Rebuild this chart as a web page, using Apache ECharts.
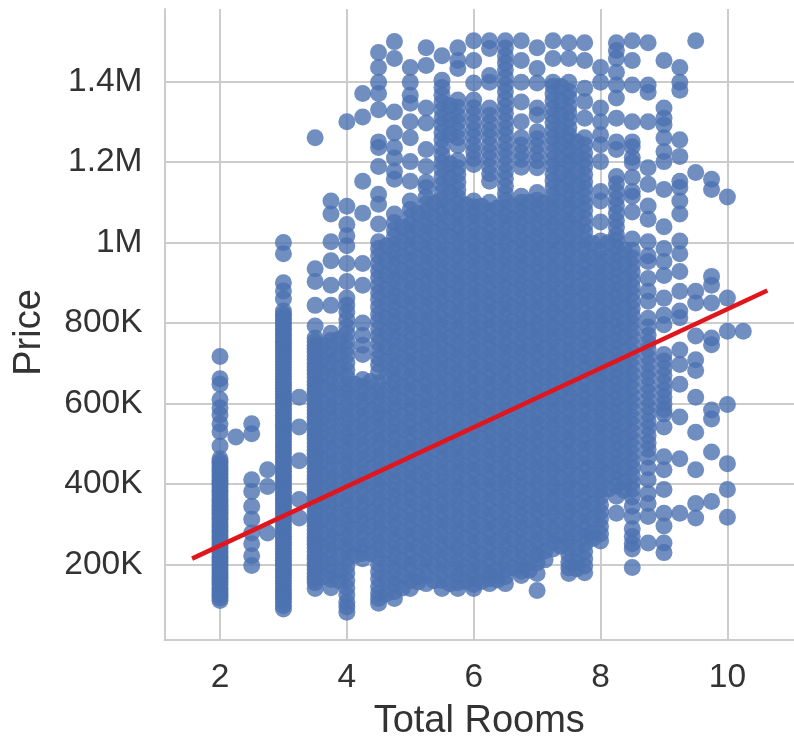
<!DOCTYPE html>
<html><head><meta charset="utf-8">
<style>html,body{margin:0;padding:0;background:#fff}#c{width:794px;height:746px;filter:blur(0.5px)}</style>
<script src="https://cdn.jsdelivr.net/npm/echarts@6/dist/echarts.min.js"></script>
</head><body><div id="c"></div>
<script>
// Prices are in thousands, one list per "Total Rooms" value.
const c2_00=[717,662,648,610,590,572,550,530,495,463,456,450,443,437,430,424,417,410,404,398,391,384,378,371,364,358,351,345,338,331,325,318,312,305,298,292,285,279,272,266,259,252,246,240,233,227,220,214,208,201,195,188,181,175,169,162,156,150,143,137,130,124,117,111];
const c2_25=[517];
const c2_50=[550,525,411,382,345,313,279,252,222,198];
const c2_75=[436,394,279];
const c3_00=[1000,972,900,880,860,830,822,815,808,800,793,786,778,771,763,755,748,741,733,726,719,711,704,697,689,682,674,667,660,652,645,638,630,623,616,608,601,594,586,579,571,564,557,549,542,535,527,520,512,505,498,490,483,476,468,461,454,446,439,432,424,417,410,402,395,388,380,373,365,358,351,343,336,329,321,314,307,299,292,285,277,270,263,255,248,241,233,226,218,211,204,197,189,182,175,168,160,153,145,138,130,122,115,107,98,90];
const c3_25=[616,542,458,362,316];
const c3_50=[1260,935,903,844,793,763,745,728,710,691,674,655,637,620,601,583,566,547,529,512,493,475,458,439,421,404,385,367,350,331,313,296,277,259,242,223,205,188,170,155,141,754,737,719,700,683,665,646,629,611,592,575,557,538,521,503,484,467,449,431,413,395,376,359,341,322,305,287,268,251,233,214,197,179,163];
const c3_625=[745,708,672,637,601,566,529,493,458,421,385,350,313,277,242,205,170];
const c3_75=[1103,1071,1002,955,894,844,775,757,739,722,703,685,668,649,631,614,595,577,560,541,523,506,487,469,452,433,415,398,379,361,344,325,307,290,271,253,236,217,199,182,163,143];
const c3_875=[760,722,688,651,616,579,544,508,471,436,399,364,328,291,256,219,184,160];
const c4_00=[1300,1090,1045,1017,992,948,903,862,845,828,809,791,774,755,737,720,701,683,666,647,629,612,593,575,558,539,521,504,485,467,450,431,413,396,377,359,342,323,305,288,269,251,234,215,197,180,161,143,125,107,95,82];
const c4_125=[648,612,575,539,504,467,431,396,359,323,288,251,222];
const c4_25=[1370,1312,1152,1073,948,894,800,770,745,722,660,643,624,606,589,570,552,535,516,498,481,462,444,427,408,390,373,354,336,319,300,282,265,246,228,215];
const c4_375=[655,620,583,547,512,475,439,404,367,331,296,259,228];
const c4_50=[1472,1435,1398,1370,1330,1250,1236,1189,1120,1095,1046,1002,985,967,948,930,913,894,876,859,840,822,805,786,768,751,732,714,697,678,652,633,616,597,578,561,543,524,507,489,470,453,434,417,398,381,362,345,326,309,290,273,254,237,218,201,182,165,146,129,116,104];
const c4_625=[992,956,920,884,848,812,776,741,705,669,633,597,561,525,489,453,417,381,345,309,273,237,201,165,128];
const c4_75=[1499,1457,1324,1272,1236,1210,1177,1157,1071,1050,1032,1015,996,978,961,942,924,907,888,870,853,834,816,799,780,762,745,726,708,691,672,654,637,618,600,583,564,546,529,510,492,475,456,438,421,402,384,367,348,330,313,294,276,259,240,222,205,186,168,151,133,116];
const c4_875=[1038,1002,966,930,894,858,822,786,750,714,678,642,606,570,534,498,462,426,390,354,318,282,246,210,174,142];
const c5_00=[1435,1398,1366,1346,1300,1260,1201,1152,1103,1082,1064,1045,1027,1010,991,973,956,937,919,902,883,865,848,829,811,794,775,757,740,721,703,686,667,649,632,613,595,578,559,541,524,505,487,470,451,433,416,397,379,362,343,325,308,289,271,254,235,217,200,181,160,141];
const c5_125=[1072,1035,999,963,927,891,855,819,783,747,711,675,639,603,567,531,495,459,423,387,351,315,279,243,207,171,157];
const c5_25=[1484,1440,1334,1297,1231,1189,1150,1137,1113,1096,1078,1059,1041,1024,1005,987,970,951,933,916,897,879,862,843,825,808,789,771,754,735,717,700,681,663,646,627,609,592,573,555,538,519,501,484,465,447,430,411,393,376,357,339,322,303,285,268,249,231,214,195,174,153];
const c5_375=[1098,1062,1026,990,954,918,882,846,810,774,738,702,666,630,594,558,522,486,450,414,378,342,306,270,234,198,160];
const c5_50=[1464,1403,1385,1366,1348,1329,1310,1293,1273,1256,1236,1218,1199,1182,1162,1144,1126,1107,1088,1071,1051,1033,1015,996,977,960,940,922,904,885,866,849,829,811,793,774,755,738,718,700,682,663,644,627,607,589,571,552,533,516,496,478,460,441,422,405,385,367,349,330,311,294,274,256,238,219,200,181,161,141];
const c5_625=[1340,1304,1268,1196,1160,1124,1088,1052,1016,980,944,908,872,836,800,764,728,692,656,620,584,548,512,476,440,404,368,332,296,260,224,188,153];
const c5_75=[1484,1452,1432,1354,1336,1315,1299,1278,1260,1241,1204,1186,1169,1150,1131,1113,1096,1076,1059,1040,1022,1005,985,968,950,931,914,895,877,860,840,823,805,786,769,750,732,715,695,678,660,641,624,605,587,570,550,533,515,496,479,460,442,425,405,388,370,351,334,315,297,280,260,243,225,206,189,170,155,141];
const c5_875=[1094,1058,1022,986,950,914,878,842,806,770,734,698,662,626,590,554,518,482,446,410,374,338,302,266,230,194,158];
const c6_00=[1501,1452,1396,1354,1335,1318,1298,1280,1263,1243,1226,1208,1194,1103,1088,1069,1052,1032,1015,997,978,961,942,924,907,887,870,852,833,816,797,779,762,742,725,707,688,671,652,634,617,597,580,562,543,526,507,489,472,452,435,417,398,381,362,344,327,307,290,272,253,236,217,199,182,165,151,141];
const c6_125=[1090,1054,1018,982,946,910,874,838,802,766,730,694,658,622,586,550,514,478,442,406,370,334,298,262,226,190,158];
const c6_25=[1501,1482,1415,1398,1334,1316,1297,1279,1262,1243,1225,1208,1189,1171,1152,1100,1079,1061,1042,1024,1007,988,970,953,934,916,899,880,862,845,826,808,791,772,754,737,718,700,683,664,646,629,610,592,575,556,538,521,502,484,467,448,430,413,394,376,359,340,322,305,286,268,251,232,214,197,178,165,153];
const c6_375=[1086,1050,1014,978,942,906,870,834,798,762,726,690,654,618,582,546,510,474,438,402,366,330,294,258,222,186,162];
const c6_50=[1501,1483,1464,1446,1429,1410,1392,1375,1356,1338,1321,1302,1284,1267,1248,1230,1213,1194,1176,1159,1140,1122,1105,1086,1068,1051,1032,1014,997,978,960,943,924,906,889,870,852,835,816,798,781,762,744,727,708,690,673,654,636,619,600,582,565,546,528,511,492,474,457,438,420,403,384,366,349,330,312,295,276,258,241,222,204,187,170,153];
const c6_625=[1090,1056,1020,984,948,912,876,840,804,768,732,696,660,624,588,552,516,480,444,408,372,336,300,264,228,192];
const c6_75=[1501,1452,1398,1349,1300,1260,1242,1223,1206,1187,1115,1100,1079,1061,1044,1025,1007,990,971,953,936,917,899,882,863,845,828,809,791,774,755,737,720,701,683,666,647,629,612,593,575,558,539,521,504,485,467,450,431,413,396,377,359,342,323,305,288,269,251,234,215,197,184,173];
const c6_875=[1100,1068,1032,996,960,924,888,852,816,780,744,708,672,636,600,564,528,492,456,420,384,348,312,276,240,204,186];
const c7_00=[1484,1432,1396,1334,1317,1275,1258,1240,1221,1203,1186,1124,1105,1088,1069,1051,1034,1015,997,980,961,943,926,907,889,872,853,835,818,799,781,764,745,727,710,691,673,656,637,619,602,583,565,548,529,511,494,475,457,440,421,403,386,367,349,332,313,295,278,259,241,224,205,178,136];
const c7_125=[1098,1062,1026,990,954,918,882,846,810,774,738,702,666,630,594,558,522,486,450,414,378,342,306,270,234,212];
const c7_25=[1501,1457,1398,1388,1369,1352,1333,1315,1298,1279,1261,1244,1225,1207,1190,1171,1153,1136,1117,1099,1082,1063,1045,1028,1009,991,974,955,937,920,901,883,866,847,829,812,793,775,758,739,721,704,685,667,650,631,613,596,577,559,542,523,505,488,469,451,434,415,397,380,361,343,326,307,289,272,255,239];
const c7_375=[1388,1352,1316,1280,1244,1208,1172,1136,1100,1064,1028,992,956,920,884,848,812,776,740,704,668,632,596,560,524,488,452,416,380,344,308,272,246];
const c7_50=[1496,1457,1398,1376,1360,1340,1322,1305,1286,1268,1251,1232,1214,1197,1178,1160,1143,1124,1106,1089,1070,1052,1035,1016,998,981,962,944,927,908,890,873,854,836,819,800,782,765,746,728,711,692,674,657,638,620,603,584,566,549,530,512,495,476,458,441,422,404,387,368,350,333,314,296,279,260,242,225,206,192,178];
const c7_625=[1250,1214,1178,1142,1106,1070,1034,998,962,926,890,854,818,782,746,710,674,638,602,566,530,494,458,422,386,350,314,278,242,206,190];
const c7_75=[1496,1452,1383,1350,1309,1260,1242,1223,1205,1188,1169,1151,1134,1115,1097,1080,1061,1043,1026,1007,989,972,953,935,918,899,881,864,845,827,810,791,773,756,737,719,702,683,665,648,629,611,594,575,557,540,521,503,486,467,449,432,413,395,378,359,341,324,305,287,270,251,233,214,197,180];
const c7_875=[998,962,926,890,854,818,782,746,710,674,638,602,566,530,494,458,422,386,350,314,278,265];
const c8_00=[1435,1398,1334,1300,1268,1243,1201,1127,1103,1051,1004,980,962,943,925,908,889,871,854,835,817,800,781,763,746,727,709,692,673,655,638,619,601,584,565,547,530,511,493,476,457,439,422,403,385,368,349,331,314,295,277,259];
const c8_125=[1000,964,928,892,856,820,784,748,712,676,640,604,568,532,496,460,424,388];
const c8_25=[1496,1477,1457,1423,1391,1359,1309,1250,1231,1164,1146,1127,1109,1092,1073,1055,1038,1019,1006,989,970,952,935,916,898,881,862,844,827,808,790,773,754,736,719,700,682,665,646,628,611,592,574,557,538,520,503,484,466,449,430,412,395,370,328];
const c8_375=[982,946,910,874,838,802,766,730,694,658,622,586,550,514,478,442,406,384];
const c8_50=[1501,1452,1391,1300,1250,1238,1211,1199,1162,1127,1115,1076,1009,981,962,944,927,908,890,873,854,836,819,800,782,765,746,728,711,692,674,657,638,620,603,584,566,549,530,512,495,476,458,441,422,404,387,368,345,320,289,270,252,239,193];
const c8_75=[1496,1391,1373,1300,1186,1145,1091,1058,1002,967,953,911,879,854,812,790,770,752,735,716,699,680,664,645,628,610,592,575,556,540,521,503,486,467,440,411,377,352,320,254];
const c9_00=[1452,1334,1309,1292,1260,1226,1201,1132,1039,985,953,918,862,820,796,722,706,688,670,652,634,617,600,585,574,542,468,436,387,328,296,254,230];
const c9_25=[1435,1398,1378,1255,1214,1152,1137,1103,1071,1004,972,928,879,830,813,733,697,648,567,463,328];
const c9_50=[1501,1174,879,850,768,709,682,616,529,436,352,316];
const c9_75=[1157,1132,916,894,850,763,746,584,562,480,357];
const c10_00=[1113,862,780,598,451,387,318];
const c10_25=[780];
const rooms=[2,2.25,2.5,2.75,3,3.25,3.5,3.625,3.75,3.875,4,4.125,4.25,4.375,4.5,4.625,4.75,4.875,5,5.125,5.25,5.375,5.5,5.625,5.75,5.875,6,6.125,6.25,6.375,6.5,6.625,6.75,6.875,7,7.125,7.25,7.375,7.5,7.625,7.75,7.875,8,8.125,8.25,8.375,8.5,8.75,9,9.25,9.5,9.75,10,10.25];
const priceColumns=[c2_00,c2_25,c2_50,c2_75,c3_00,c3_25,c3_50,c3_625,c3_75,c3_875,c4_00,c4_125,c4_25,c4_375,c4_50,c4_625,c4_75,c4_875,c5_00,c5_125,c5_25,c5_375,c5_50,c5_625,c5_75,c5_875,c6_00,c6_125,c6_25,c6_375,c6_50,c6_625,c6_75,c6_875,c7_00,c7_125,c7_25,c7_375,c7_50,c7_625,c7_75,c7_875,c8_00,c8_125,c8_25,c8_375,c8_50,c8_75,c9_00,c9_25,c9_50,c9_75,c10_00,c10_25];
const fitX=[1.56,10.63];
const fitY=[215,881];
const xTicks=[2,4,6,8,10];
const yTicks=[200,400,600,800,1000,1200,1400];
const yTickLabels=['200K','400K','600K','800K','1M','1.2M','1.4M'];

const points=[];
rooms.forEach((r,i)=>priceColumns[i].forEach(p=>points.push([r,p])));
const font='"Liberation Sans",Arial,sans-serif';
const chart=echarts.init(document.getElementById('c'),null,{renderer:'canvas'});
chart.setOption({
  animation:false,
  backgroundColor:'#fff',
  grid:{left:164.5,right:0,top:9,bottom:101},
  xAxis:{
    type:'value',min:1.125,max:11.05,
    name:'Total Rooms',nameLocation:'middle',nameGap:63,
    nameTextStyle:{fontFamily:font,fontSize:38,color:'#333'},
    axisLine:{show:true,lineStyle:{color:'#ccc',width:2}},
    axisTick:{show:false,customValues:xTicks},
    axisLabel:{customValues:xTicks,fontFamily:font,fontSize:33.5,color:'#333',margin:21},
    splitLine:{show:true,lineStyle:{color:'#ccc',width:2}}
  },
  yAxis:{
    type:'value',min:13,max:1580,
    name:'Price',nameLocation:'middle',nameGap:115.5,
    nameTextStyle:{fontFamily:font,fontSize:38,color:'#333',padding:[0,16,0,0]},
    axisLine:{show:true,lineStyle:{color:'#ccc',width:2}},
    axisTick:{show:false,customValues:yTicks},
    axisLabel:{customValues:yTicks,fontFamily:font,fontSize:33.5,color:'#333',margin:22,
      formatter:v=>yTickLabels[yTicks.indexOf(v)]},
    splitLine:{show:true,lineStyle:{color:'#ccc',width:2}}
  },
  series:[
    {type:'scatter',data:points,symbol:'circle',symbolSize:17,silent:true,large:false,
     itemStyle:{color:'#4C72B0',opacity:0.8}},
    {type:'line',data:fitX.map((x,i)=>[x,fitY[i]]),showSymbol:false,z:5,silent:true,
     lineStyle:{color:'#E0161E',width:4.5}}
  ]
});
</script></body></html>
